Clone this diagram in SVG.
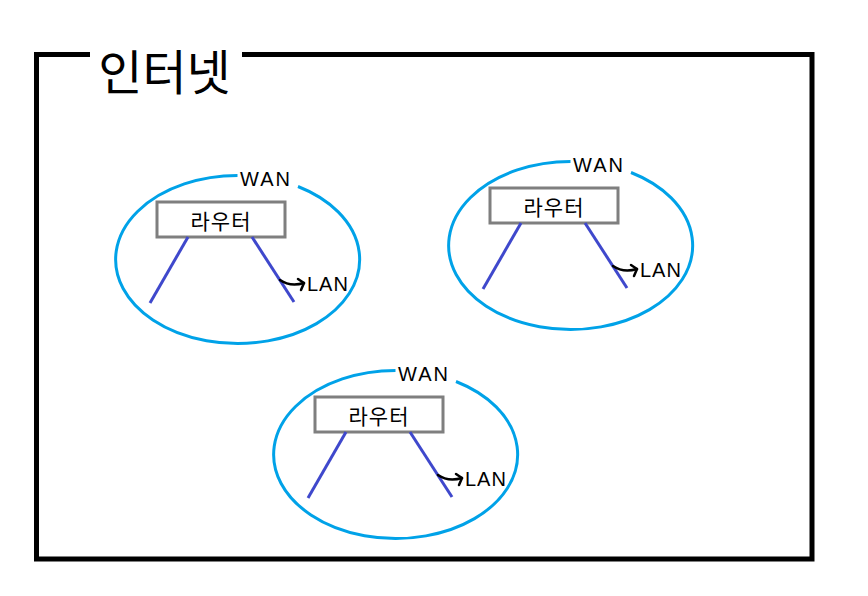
<svg xmlns="http://www.w3.org/2000/svg" width="868" height="596" viewBox="0 0 868 596">
<defs>
<style>
.frame{fill:none;stroke:#000;stroke-width:5;stroke-linejoin:miter}
.title{font-family:"Noto Sans CJK KR","Noto Sans",sans-serif;font-size:48px;fill:#000}
.wan{fill:none;stroke:#00A2E8;stroke-width:3}
.box{fill:#fff;stroke:#7F7F7F;stroke-width:3}
.rt{font-family:"Noto Sans CJK KR","Noto Sans",sans-serif;font-size:21px;fill:#000;letter-spacing:1px}
.lbl{font-family:"Liberation Sans",Arial,sans-serif;font-size:20px;fill:#000;letter-spacing:2px}
.lan-lbl{font-family:"Liberation Sans",Arial,sans-serif;font-size:20px;fill:#000;letter-spacing:1px}
.cable{fill:none;stroke:#3F48CC;stroke-width:3}
.arr{fill:none;stroke:#000;stroke-width:2.5;stroke-linecap:round;stroke-linejoin:round}
</style>
<g id="cluster">
  <g class="wan-node">
    <path class="wan" d="M298,186.5 A122 84 0 1 1 237.5,175.5"/>
    <text class="lbl" x="240" y="186">WAN</text>
  </g>
  <g class="router-node">
    <rect class="box" x="157" y="202" width="128" height="35"/>
    <text class="rt" x="221" y="229" text-anchor="middle">라우터</text>
  </g>
  <g class="lan-node">
    <text class="lan-lbl" x="307" y="291">LAN</text>
  </g>
  <g class="connectors">
    <line class="cable" x1="188" y1="237" x2="150" y2="303"/>
    <line class="cable" x1="252" y1="237" x2="294" y2="302"/>
    <path class="arr" d="M280,280 Q290,287 304,283"/>
    <path class="arr" d="M298,279 L304,283 L301,290"/>
  </g>
</g>
</defs>
<g id="internet">
  <path class="frame" d="M90,54.5 H36.5 V559 H812 V54.5 H242"/>
  <text class="title" x="164.5" y="89.5" text-anchor="middle">인터넷</text>
</g>
<g id="network1"><use href="#cluster"/></g>
<g id="network2"><use href="#cluster" transform="translate(333,-14)"/></g>
<g id="network3"><use href="#cluster" transform="translate(158,195)"/></g>
</svg>
